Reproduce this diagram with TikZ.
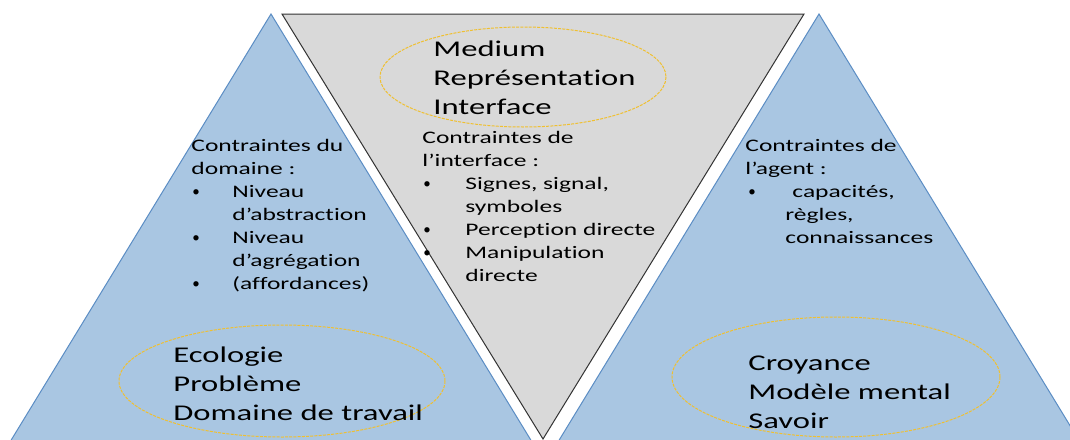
\documentclass[tikz,border=0pt]{standalone}
\usepackage{fontspec}
\setmainfont{Carlito}[FakeStretch=1.45, Ligatures=CommonOff]
\newfontfamily\bulletfont{Carlito}
\newcommand{\mybul}{\raisebox{0.5pt}{\bulletfont\fontsize{7.5}{7.5}\selectfont •}}
\definecolor{triblue}{HTML}{A9C6E2}
\definecolor{triedge}{HTML}{5B8DC4}
\definecolor{trigray}{HTML}{D9D9D9}
\definecolor{ellgold}{HTML}{F0C030}
\begin{document}
\begin{tikzpicture}[x=0.5pt,y=-0.5pt,
  bigtxt/.style={font=\fontsize{11.25}{14.5}\selectfont, align=left, inner sep=0pt, anchor=north west},
  smalltxt/.style={font=\fontsize{8.8}{11.5}\selectfont, align=left, inner sep=0pt, anchor=north west},
  bluetri/.style={fill=triblue, draw=triedge, line width=0.5pt},
  graytri/.style={fill=trigray, draw=black!80, line width=0.5pt},
  ell/.style={draw=ellgold, line width=0.5pt, dash pattern=on 1.5pt off 0.6pt}]
\useasboundingbox (0,0) rectangle (1070,439);
\clip (0,0) rectangle (1070,439);
\fill[white] (0,0) rectangle (1070,439);
% triangles
\draw[bluetri] (271,14) -- (543,460) -- (-1,460) -- cycle;
\draw[graytri] (282,14) -- (804,14) -- (543,439) -- cycle;
\draw[bluetri] (819,14) -- (1091,460) -- (547,460) -- cycle;
% ellipses
\draw[ell] (523,77) ellipse [x radius=143, y radius=50];
\draw[ell] (282,381) ellipse [x radius=163, y radius=56];
\draw[ell] (836,377) ellipse [x radius=164, y radius=60];
% big labels
\node[bigtxt] (med) at (433,35.7) {\strut Medium\\Représentation\\Interface};
\node[bigtxt] (eco) at (173,341.7) {\strut Ecologie\\Problème\\Domaine de travail};
\node[bigtxt] (cro) at (748,349.7) {\strut Croyance\\Modèle mental\\Savoir};
% constraint lists
\node[smalltxt] (dom) at (191,134.9) {\strut Contraintes du\\domaine :\\
  \makebox[20.5pt][l]{\hspace*{0.5pt}\mybul}Niveau\\\hspace*{20.5pt}d’abstraction\\
  \makebox[20.5pt][l]{\hspace*{0.5pt}\mybul}Niveau\\\hspace*{20.5pt}d’agrégation\\
  \makebox[20.5pt][l]{\hspace*{0.5pt}\mybul}(affordances)};
\node[smalltxt] (itf) at (422,126.9) {\strut Contraintes de\\l’interface :\\
  \makebox[21.5pt][l]{\hspace*{0.5pt}\mybul}Signes, signal,\\\hspace*{21.5pt}symboles\\
  \makebox[21.5pt][l]{\hspace*{0.5pt}\mybul}Perception directe\\
  \makebox[21.5pt][l]{\hspace*{0.5pt}\mybul}Manipulation\\\hspace*{21.5pt}directe};
\node[smalltxt] (agt) at (745,134.9) {\strut Contraintes de\\l’agent :\\
  \makebox[20pt][l]{\hspace*{1.5pt}\mybul}\hspace*{3.5pt}capacités,\\\hspace*{20pt}règles,\\
  \hspace*{20pt}connaissances};
\end{tikzpicture}
\end{document}
